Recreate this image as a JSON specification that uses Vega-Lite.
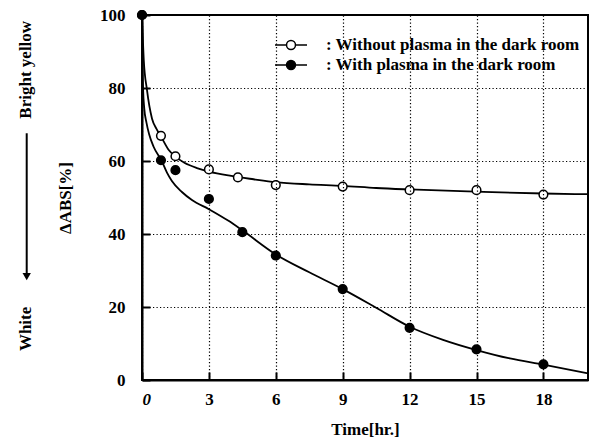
{
  "$schema": "https://vega.github.io/schema/vega-lite/v6.json",
  "width": 446,
  "height": 365,
  "autosize": {"type": "none"},
  "padding": {"left": 142, "top": 15, "right": 10, "bottom": 63},
  "background": "white",
  "config": {
    "view": {"stroke": "black", "strokeWidth": 2},
    "font": "Liberation Serif",
    "legend": {
      "orient": "none",
      "legendX": 140,
      "legendY": 21,
      "padding": 0,
      "symbolType": "M-2,0H-0.56M0.56,0H2M0.56,0A0.56,0.56,0,1,1,-0.56,0A0.56,0.56,0,1,1,0.56,0Z",
      "symbolSize": 256,
      "symbolStrokeColor": "black",
      "symbolStrokeWidth": 1.5,
      "labelFont": "Liberation Serif",
      "labelFontSize": 17,
      "labelFontWeight": "bold",
      "labelColor": "black",
      "labelOffset": 26,
      "rowPadding": 3,
      "labelLimit": 400
    }
  },
  "datasets": {
    "points": [
      {"s": ": Without plasma in the dark room", "t": 0, "v": 100},
      {"s": ": Without plasma in the dark room", "t": 0.85, "v": 66.9},
      {"s": ": Without plasma in the dark room", "t": 1.5, "v": 61.3},
      {"s": ": Without plasma in the dark room", "t": 3, "v": 57.7},
      {"s": ": Without plasma in the dark room", "t": 4.3, "v": 55.5},
      {"s": ": Without plasma in the dark room", "t": 6, "v": 53.4},
      {"s": ": Without plasma in the dark room", "t": 9, "v": 53.0},
      {"s": ": Without plasma in the dark room", "t": 12, "v": 52.0},
      {"s": ": Without plasma in the dark room", "t": 15, "v": 52.0},
      {"s": ": Without plasma in the dark room", "t": 18, "v": 50.8},
      {"s": ": With plasma in the dark room", "t": 0, "v": 100},
      {"s": ": With plasma in the dark room", "t": 0.85, "v": 60.2},
      {"s": ": With plasma in the dark room", "t": 1.5, "v": 57.5},
      {"s": ": With plasma in the dark room", "t": 3, "v": 49.6},
      {"s": ": With plasma in the dark room", "t": 4.5, "v": 40.5},
      {"s": ": With plasma in the dark room", "t": 6, "v": 34.1},
      {"s": ": With plasma in the dark room", "t": 9, "v": 24.9},
      {"s": ": With plasma in the dark room", "t": 12, "v": 14.3},
      {"s": ": With plasma in the dark room", "t": 15, "v": 8.4},
      {"s": ": With plasma in the dark room", "t": 18, "v": 4.3}
    ],
    "curves": [
      {"s": "without", "t": 0, "v": 100},
      {"s": "without", "t": 0.08, "v": 87.6},
      {"s": "without", "t": 0.22, "v": 79.6},
      {"s": "without", "t": 0.45, "v": 71.6},
      {"s": "without", "t": 0.65, "v": 68.8},
      {"s": "without", "t": 0.87, "v": 66.5},
      {"s": "without", "t": 1.2, "v": 63},
      {"s": "without", "t": 1.5, "v": 61.2},
      {"s": "without", "t": 1.9, "v": 59.5},
      {"s": "without", "t": 2.5, "v": 58.0},
      {"s": "without", "t": 3, "v": 57.1},
      {"s": "without", "t": 4, "v": 55.9},
      {"s": "without", "t": 5, "v": 55.0},
      {"s": "without", "t": 6, "v": 54.2},
      {"s": "without", "t": 7.5, "v": 53.6},
      {"s": "without", "t": 9, "v": 53.2},
      {"s": "without", "t": 10.5, "v": 52.6},
      {"s": "without", "t": 12, "v": 52.2},
      {"s": "without", "t": 15, "v": 51.6},
      {"s": "without", "t": 18, "v": 51.1},
      {"s": "without", "t": 20, "v": 50.9},
      {"s": "with", "t": 0, "v": 100},
      {"s": "with", "t": 0.02, "v": 88},
      {"s": "with", "t": 0.05, "v": 79.5},
      {"s": "with", "t": 0.1, "v": 74.5},
      {"s": "with", "t": 0.2, "v": 70.5},
      {"s": "with", "t": 0.32, "v": 67.3},
      {"s": "with", "t": 0.52, "v": 63.9},
      {"s": "with", "t": 0.87, "v": 60.2},
      {"s": "with", "t": 1.12, "v": 56.8},
      {"s": "with", "t": 1.34, "v": 54.5},
      {"s": "with", "t": 1.79, "v": 51.5},
      {"s": "with", "t": 2.24, "v": 49.3},
      {"s": "with", "t": 3, "v": 46.8},
      {"s": "with", "t": 3.88, "v": 43.6},
      {"s": "with", "t": 4.5, "v": 41.0},
      {"s": "with", "t": 6, "v": 34.4},
      {"s": "with", "t": 7.5, "v": 29.5},
      {"s": "with", "t": 9, "v": 24.9},
      {"s": "with", "t": 10.5, "v": 19.8},
      {"s": "with", "t": 12, "v": 14.6},
      {"s": "with", "t": 13.5, "v": 11.0},
      {"s": "with", "t": 15, "v": 8.2},
      {"s": "with", "t": 16.5, "v": 5.9},
      {"s": "with", "t": 18, "v": 4.2},
      {"s": "with", "t": 20, "v": 1.8}
    ],
    "notes": [
      {"label": "Bright yellow", "t": -5.19, "v": 85},
      {"label": "White", "t": -5.19, "v": 14}
    ],
    "arrow": [
      {"t": -5.17, "v": 67.6, "v2": 29}
    ],
    "head": [
      {"t": -5.17, "v": 28.3}
    ]
  },
  "encoding": {
    "x": {
      "field": "t",
      "type": "quantitative",
      "scale": {"domain": [0, 20], "nice": false, "zero": false},
      "axis": {
        "title": "Time[hr.]",
        "values": [0, 3, 6, 9, 12, 15, 18],
        "grid": true,
        "gridColor": "black",
        "gridDash": [1.2, 2.3],
        "gridWidth": 1.2,
        "domainColor": "black",
        "domainWidth": 2,
        "ticks": true,
        "tickColor": "black",
        "tickWidth": 2,
        "tickSize": -8,
        "labelPadding": 19,
        "labelFont": "Liberation Serif",
        "labelFontSize": 17,
        "labelFontWeight": "bold",
        "labelColor": "black",
        "labelFontStyle": {"condition": {"test": "datum.value == 0", "value": "italic"}, "value": "normal"},
        "titleFont": "Liberation Serif",
        "titleFontSize": 17,
        "titleFontWeight": "bold",
        "titleColor": "black",
        "titlePadding": 14,
        "zindex": 1
      }
    },
    "y": {
      "field": "v",
      "type": "quantitative",
      "scale": {"domain": [0, 100], "nice": false},
      "axis": {
        "title": "ΔABS[%]",
        "values": [0, 20, 40, 60, 80, 100],
        "grid": true,
        "gridColor": "black",
        "gridDash": [1.2, 2.3],
        "gridWidth": 1.2,
        "domainColor": "black",
        "domainWidth": 2,
        "ticks": true,
        "tickColor": "black",
        "tickWidth": 2,
        "tickSize": -8,
        "labelPadding": 25,
        "labelFont": "Liberation Serif",
        "labelFontSize": 17,
        "labelFontWeight": "bold",
        "labelColor": "black",
        "titleFont": "Liberation Serif",
        "titleFontSize": 17,
        "titleFontWeight": "bold",
        "titleColor": "black",
        "titlePadding": 25,
        "zindex": 1
      }
    }
  },
  "layer": [
    {
      "data": {"name": "curves"},
      "mark": {"type": "line", "color": "black", "strokeWidth": 1.8, "interpolate": "monotone"},
      "encoding": {"detail": {"field": "s"}}
    },
    {
      "data": {"name": "points"},
      "mark": {"type": "circle", "stroke": "black", "strokeWidth": 1.5, "size": 75, "opacity": 1},
      "encoding": {
        "fill": {
          "field": "s",
          "type": "nominal",
          "scale": {"domain": [": Without plasma in the dark room", ": With plasma in the dark room"], "range": ["white", "black"]},
          "legend": {"title": null}
        }
      }
    },
    {
      "data": {"name": "notes"},
      "mark": {"type": "text", "angle": 270, "align": "center", "baseline": "middle", "font": "Liberation Serif", "fontSize": 17, "fontWeight": "bold", "color": "black"},
      "encoding": {"text": {"field": "label"}}
    },
    {
      "data": {"name": "arrow"},
      "mark": {"type": "rule", "color": "black", "strokeWidth": 2},
      "encoding": {"y2": {"field": "v2"}}
    },
    {
      "data": {"name": "head"},
      "mark": {"type": "point", "shape": "triangle-down", "filled": true, "color": "black", "size": 70, "opacity": 1},
      "encoding": {}
    }
  ]
}
